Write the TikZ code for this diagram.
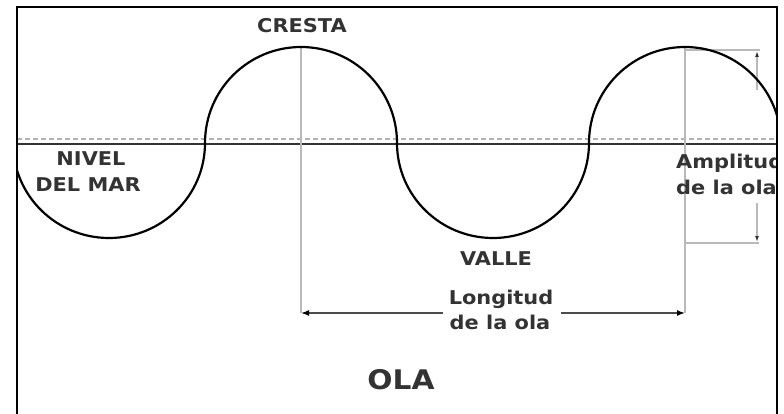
\documentclass[tikz,border=0pt]{standalone}
\usepackage{fontspec}
\setmainfont{DejaVu Sans}
\usepackage{graphicx}
\usetikzlibrary{arrows.meta}
\newcommand{\wide}[1]{\scalebox{1.1}[1]{#1}}
\begin{document}
\begin{tikzpicture}[x=1pt,y=-1pt,
  lbl/.style={font=\fontsize{19}{22}\selectfont\bfseries, text=black!80, inner sep=0pt, anchor=base},
  biglbl/.style={lbl, font=\fontsize{27}{31}\selectfont\bfseries},
  wave/.style={line width=2.2pt, black},
  guide/.style={line width=1.8pt, gray!55},
  dim/.style={line width=1.5pt, gray!60!black},
  arrtip/.style={-{Latex[length=8pt,width=6pt,black]}},
  smalltip/.style={-{Latex[length=6pt,width=4pt,black!80]}},
  frame/.style={line width=2.6pt, black, line join=miter}]
\useasboundingbox (0,0) rectangle (784,414);
\fill[white] (0,0) rectangle (784,414);

\begin{scope}
\clip (17,7) rectangle (777,414);
% sea level
\coordinate (slL) at (17,139);
\coordinate (slR) at (777,139);
\coordinate (smL) at (17,144);
\coordinate (smR) at (777,144);
\draw[gray!60, line width=1.8pt, dash pattern=on 5pt off 3pt] (slL) -- (slR);
\draw[line width=1.6pt, black!80] (smL) -- (smR);

% vertical guides at crests
\coordinate (crest1) at (301,47);
\coordinate (crest2) at (685,47);
\coordinate (dl) at (301,313);
\coordinate (dr) at (685,313);
\draw[guide] (crest1) -- (dl);
\draw[guide] (crest2) -- (dr);

% wave length dimension
\node[minimum width=118pt, minimum height=2pt, inner sep=0pt] (gap) at (502,313) {};
\draw[dim, arrtip] (gap.west) -- (dl);
\draw[dim, arrtip] (gap.east) -- (dr);

% amplitude bracket
\coordinate (ampTL) at (685,50);
\coordinate (ampTR) at (760,50);
\coordinate (ampUpS) at (757,90);
\coordinate (ampUpE) at (757,51);
\coordinate (ampLoS) at (757,203);
\coordinate (ampLoE) at (757,242);
\coordinate (ampBL) at (685,243);
\coordinate (ampBR) at (759,243);
\draw[guide] (ampTL) -- (ampTR);
\draw[guide] (ampBL) -- (ampBR);
\draw[guide, smalltip] (ampUpS) -- (ampUpE);
\draw[guide, smalltip] (ampLoS) -- (ampLoE);

% wave
\draw[wave] (13,143)
  arc[start angle=180, end angle=0, x radius=96, y radius=95]
  arc[start angle=180, end angle=360, x radius=96, y radius=96]
  arc[start angle=180, end angle=0, x radius=96, y radius=95]
  arc[start angle=180, end angle=360, x radius=96, y radius=96];

% labels
\node[lbl] (cresta) at (302,33) {\wide{CRESTA}};
\node[lbl] (nivel) at (91,166) {\wide{NIVEL}};
\node[lbl] (delmar) at (88,192) {\wide{DEL MAR}};
\node[lbl] (valle) at (496,265) {\wide{VALLE}};
\node[lbl] (lon1) at (501,304) {\wide{Longitud}};
\node[lbl] (lon2) at (500,329) {\wide{de la ola}};
\node[lbl, anchor=base west] (amp1) at (676,169) {\wide{Amplitud}};
\node[lbl, anchor=base west] (amp2) at (676,195) {\wide{de la ola}};
\node[biglbl] (ola) at (401,389) {\wide{OLA}};
\end{scope}

% frame
\coordinate (frBL) at (17,414);
\coordinate (frTL) at (17,7);
\coordinate (frTR) at (777,7);
\coordinate (frBR) at (777,414);
\draw[frame] (frBL) -- (frTL) -- (frTR) -- (frBR);
\end{tikzpicture}
\end{document}
